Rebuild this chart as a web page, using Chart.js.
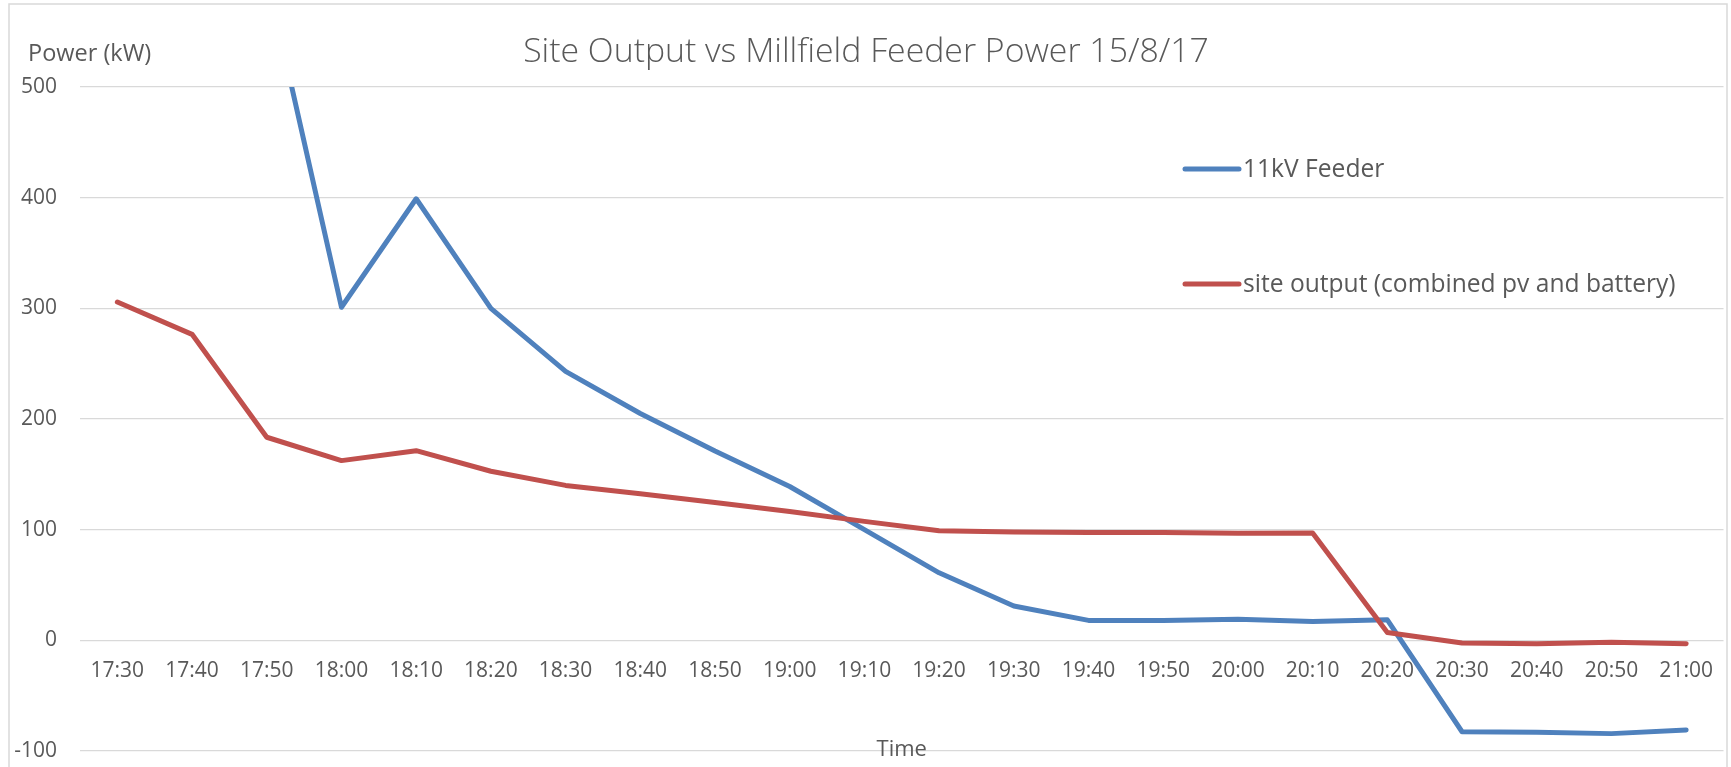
<!DOCTYPE html>
<html>
<head>
<meta charset="utf-8">
<script src="https://cdn.jsdelivr.net/npm/chart.js@4.4.1/dist/chart.umd.min.js"></script>
<style>
  html, body { margin: 0; padding: 0; background: #fff; }
  canvas { display: block; }
</style>
</head>
<body>
<canvas id="feederChart" width="1731" height="767"></canvas>
<script>
const timeLabels = ['17:30', '17:40', '17:50', '18:00', '18:10', '18:20', '18:30', '18:40',
  '18:50', '19:00', '19:10', '19:20', '19:30', '19:40', '19:50', '20:00', '20:10', '20:20',
  '20:30', '20:40', '20:50', '21:00'];

// 17:30 and 17:40 sit above the 500 cap, off the plot
const feederKw = [720, 680, 600, 301, 399, 300, 243, 205, 171, 139, 100, 61, 31, 18, 18, 19,
  17, 18.5, -82.6, -83, -84.3, -81];
const siteKw = [305.7, 276.5, 183.5, 162.4, 171.4, 152.8, 140, 132.5, 124.5, 116.5, 107.5, 99,
  98, 97.5, 97.5, 96.8, 97, 7, -2.4, -3, -1.8, -3];

const seriesNames = ['11kV Feeder', 'site output (combined pv and battery)'];
const yTicks = [-100, 0, 100, 200, 300, 400, 500];

const textColor = '#595959';
const gridColor = '#D9D9D9';
const blue = '#4F81BD';
const red = '#C0504D';

const ctx = document.getElementById('feederChart').getContext('2d');

// title, axis titles, legend and the outer frame
const decorations = {
  id: 'decorations',
  afterDraw(chart) {
    const { ctx, chartArea } = chart;
    ctx.save();
    ctx.fillStyle = textColor;

    ctx.font = '300 33.8px "Open Sans"';
    ctx.textAlign = 'center';
    ctx.textBaseline = 'alphabetic';
    ctx.fillText('Site Output vs Millfield Feeder Power 15/8/17', 866, 62);

    ctx.font = '23.5px "Open Sans"';
    ctx.textAlign = 'left';
    ctx.fillText('Power (kW)', 28, 60.5);

    ctx.font = '22px "Open Sans"';
    ctx.textAlign = 'center';
    ctx.fillText('Time', (chartArea.left + chartArea.right) / 2, 756);

    // legend inside the plot
    const rows = [169, 284];
    chart.data.datasets.forEach((ds, i) => {
      ctx.strokeStyle = ds.borderColor;
      ctx.lineWidth = 5;
      ctx.lineCap = 'round';
      ctx.beginPath();
      ctx.moveTo(1185, rows[i]);
      ctx.lineTo(1239, rows[i]);
      ctx.stroke();
      ctx.font = '24.6px "Open Sans"';
      ctx.textAlign = 'left';
      ctx.textBaseline = 'middle';
      ctx.fillText(ds.label, 1243, rows[i] + 1);
    });

    ctx.strokeStyle = gridColor;
    ctx.lineWidth = 1.5;
    ctx.strokeRect(9, 4, 1718, 800);
    ctx.restore();
  }
};

const myChart = new Chart(ctx, {
  type: 'line',
  data: {
    labels: timeLabels,
    datasets: [
      {
        label: seriesNames[0],
        data: feederKw,
        borderColor: blue,
        backgroundColor: blue,
        borderWidth: 5,
        pointRadius: 0,
        tension: 0,
        borderCapStyle: 'round',
        borderJoinStyle: 'round',
        clip: 0,
        order: 1
      },
      {
        label: seriesNames[1],
        data: siteKw,
        borderColor: red,
        backgroundColor: red,
        borderWidth: 5,
        pointRadius: 0,
        tension: 0,
        borderCapStyle: 'round',
        borderJoinStyle: 'round',
        clip: 0,
        order: 0
      }
    ]
  },
  options: {
    responsive: false,
    animation: false,
    layout: {
      padding: { left: 0, right: 7.5, top: 87, bottom: 16 }
    },
    plugins: {
      legend: { display: false },
      title: { display: false },
      tooltip: { enabled: false }
    },
    scales: {
      x: {
        type: 'category',
        position: { y: 0 },
        offset: true,
        afterFit(scale) {
          scale.paddingLeft = 0;
          scale.paddingRight = 0;
        },
        grid: { display: false, drawTicks: false },
        border: { display: false },
        ticks: {
          color: textColor,
          font: { family: 'Open Sans', size: 21 },
          padding: 18,
          maxRotation: 0,
          autoSkip: false
        }
      },
      y: {
        min: -100,
        max: 500,
        afterBuildTicks(scale) {
          scale.ticks = yTicks.map(v => ({ value: v }));
        },
        afterFit(scale) {
          scale.width = 80;
          scale.paddingTop = 0;
          scale.paddingBottom = 0;
        },
        grid: { color: gridColor, lineWidth: 1.3, drawTicks: false },
        border: { display: false },
        ticks: {
          color: textColor,
          font: { family: 'Open Sans', size: 21 },
          padding: 23
        }
      }
    }
  },
  plugins: [decorations]
});
</script>
</body>
</html>
